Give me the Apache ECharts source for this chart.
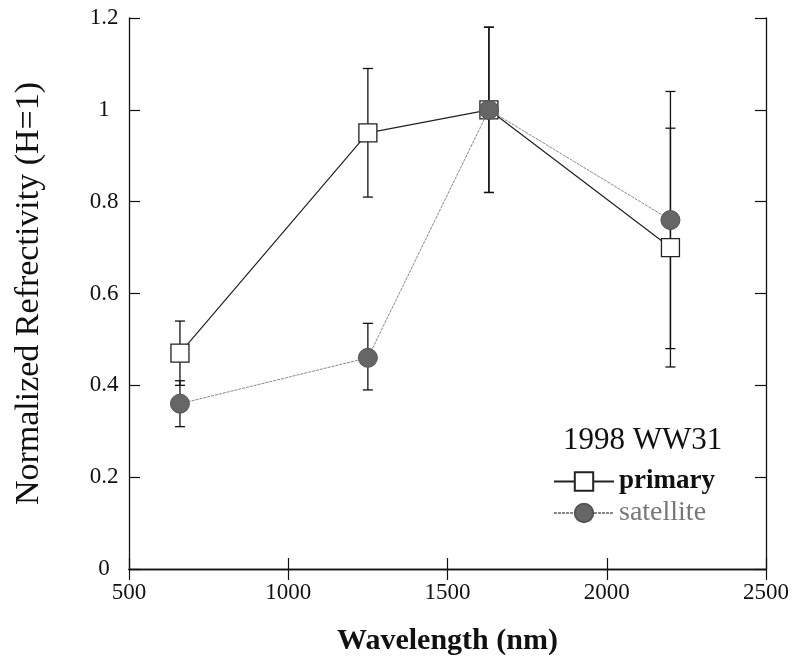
<!DOCTYPE html>
<html><head><meta charset="utf-8">
<script src="https://cdn.jsdelivr.net/npm/echarts@6/dist/echarts.min.js"></script>
<style>html,body{margin:0;padding:0;background:#fff}#c{width:792px;height:661px}</style>
</head><body><div id="c"></div>
<script>
const wavelengths = [660, 1250, 1630, 2200];
const primaryVals = [0.47, 0.95, 1.0, 0.70];
const primaryLow  = [0.40, 0.81, 0.82, 0.44];
const primaryHigh = [0.54, 1.09, 1.18, 0.96];
const satelliteVals = [0.36, 0.46, 1.0, 0.76];
const satelliteLow  = [0.31, 0.39, 0.82, 0.48];
const satelliteHigh = [0.41, 0.535, 1.18, 1.04];
const xTicks = [500, 1000, 1500, 2000, 2500];
const yTicks = [0, 0.2, 0.4, 0.6, 0.8, 1, 1.2];

const font = '"Liberation Serif", "DejaVu Serif", serif';
const chart = echarts.init(document.getElementById('c'));

function errData(low, high) {
  return wavelengths.map((x, i) => [x, low[i], high[i]]);
}
function errRender(params, api) {
  const x = api.value(0);
  const lo = api.coord([x, api.value(1)]);
  const hi = api.coord([x, api.value(2)]);
  const w = 5;
  const st = { stroke: '#111', lineWidth: 1.3 };
  return { type: 'group', children: [
    { type: 'line', shape: { x1: lo[0], y1: lo[1], x2: hi[0], y2: hi[1] }, style: st },
    { type: 'line', shape: { x1: lo[0]-w, y1: lo[1], x2: lo[0]+w, y2: lo[1] }, style: st },
    { type: 'line', shape: { x1: hi[0]-w, y1: hi[1], x2: hi[0]+w, y2: hi[1] }, style: st }
  ]};
}
const axisLine = { show: true, lineStyle: { color: '#111', width: 1.3 } };
const tick = { show: true, inside: true, length: 11, lineStyle: { color: '#111', width: 1.2 } };
chart.setOption({
  animation: false,
  backgroundColor: '#fff',
  grid: { left: 129, top: 18, right: 26, bottom: 91 },
  xAxis: [{
    type: 'value', min: xTicks[0], max: xTicks[xTicks.length-1], interval: 500,
    axisLine, axisTick: tick, splitLine: { show: false },
    axisLabel: { fontFamily: font, fontSize: 23, color: '#111', margin: 12, formatter: v => String(v) },
    name: 'Wavelength (nm)', nameLocation: 'middle', nameGap: 57,
    nameTextStyle: { fontFamily: font, fontSize: 30, fontWeight: 'bold', color: '#111' }
  }, {
    type: 'value', min: xTicks[0], max: xTicks[xTicks.length-1], interval: 500, position: 'top',
    axisLine, axisTick: tick, splitLine: { show: false }, axisLabel: { show: false }
  }],
  yAxis: [{
    type: 'value', min: yTicks[0], max: yTicks[yTicks.length-1], interval: 0.2,
    axisLine, axisTick: tick, splitLine: { show: false },
    axisLabel: { fontFamily: font, fontSize: 23, color: '#111', margin: 25, align: 'center',
      formatter: v => String(+v.toFixed(1)) },
    name: 'Normalized Refrectivity (H=1)', nameLocation: 'middle', nameGap: 83,
    nameTextStyle: { fontFamily: font, fontSize: 34, color: '#111' }
  }, {
    type: 'value', min: yTicks[0], max: yTicks[yTicks.length-1], interval: 0.2, position: 'right',
    axisLine, axisTick: tick, splitLine: { show: false }, axisLabel: { show: false }
  }],
  graphic: [{
    type: 'text', left: 563, top: 425,
    style: { text: '1998 WW31', fontFamily: font, fontSize: 31, fill: '#111' }
  }],
  legend: {
    left: 553, top: 468, orient: 'vertical', itemGap: 4, itemWidth: 60, itemHeight: 23, padding: 0,
    data: [
      { name: 'primary', textStyle: { fontFamily: font, fontSize: 27, color: '#111', fontWeight: 'bold' } },
      { name: 'satellite', textStyle: { fontFamily: font, fontSize: 28, color: '#777' } }
    ],
    textStyle: { fontFamily: font, fontSize: 27 }
  },
  series: [
    { type: 'custom', name: 'errP', data: errData(primaryLow, primaryHigh), renderItem: errRender, z: 1, silent: true },
    { type: 'custom', name: 'errS', data: errData(satelliteLow, satelliteHigh), renderItem: errRender, z: 1, silent: true },
    { type: 'line', name: 'primary', data: wavelengths.map((x, i) => [x, primaryVals[i]]),
      symbol: 'rect', symbolSize: 18, showAllSymbol: true,
      lineStyle: { color: '#222', width: 1.2 },
      itemStyle: { color: '#fff', borderColor: '#222', borderWidth: 1.3 }, z: 3 },
    { type: 'line', name: 'satellite', data: wavelengths.map((x, i) => [x, satelliteVals[i]]),
      symbol: 'circle', symbolSize: 19,
      lineStyle: { color: '#888', width: 1, type: [3, 1] },
      itemStyle: { color: '#666', borderColor: '#555', borderWidth: 1 }, z: 4 }
  ]
});
</script></body></html>
